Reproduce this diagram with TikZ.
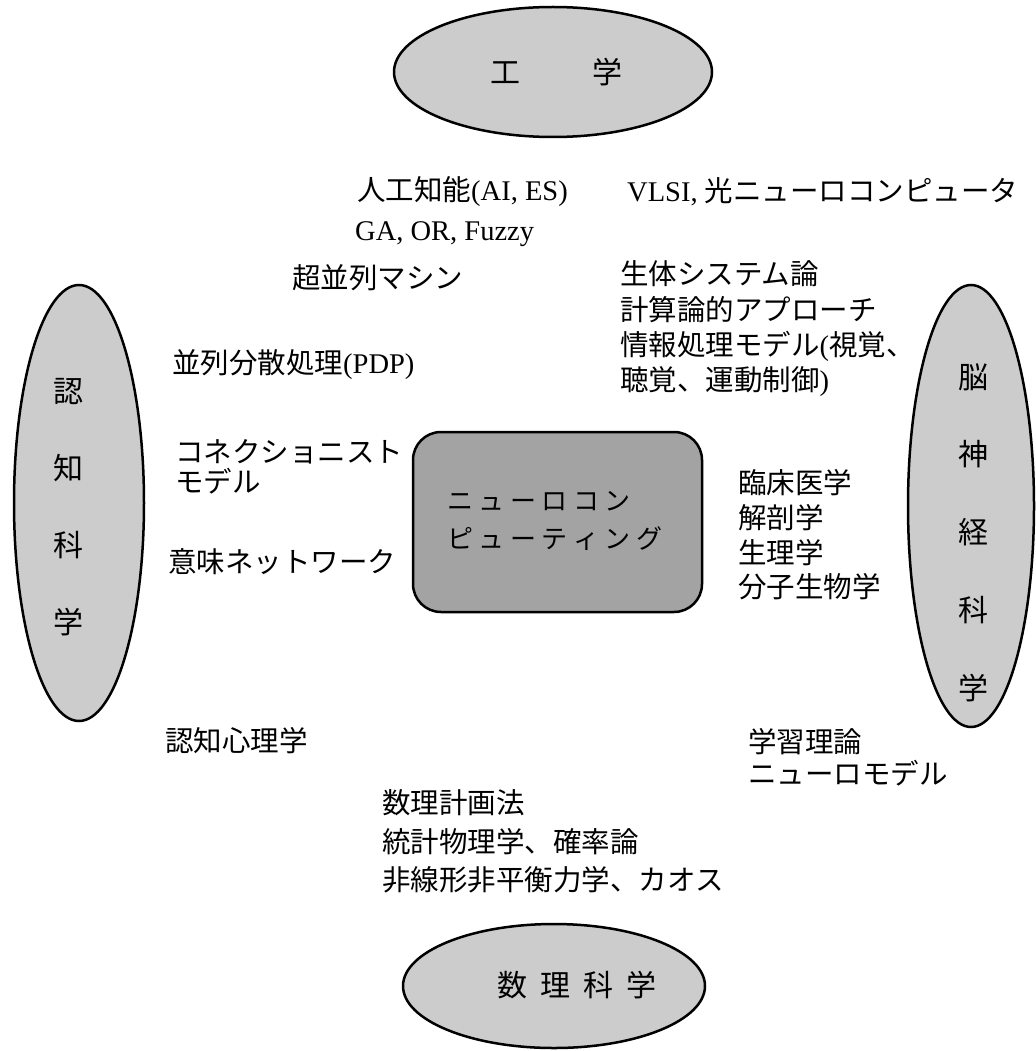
\documentclass[tikz,border=0pt]{standalone}
\usepackage{fontspec}
\setmainfont{Liberation Serif}
\newfontfamily\jp{Noto Sans CJK JP}
\usetikzlibrary{shapes.geometric}
\newcommand\gpA{\hspace{5.5pt}}
\newcommand\gpB{\hspace{13pt}}
\begin{document}
\begin{tikzpicture}[x=1pt,y=-1pt,
  field/.style={ellipse, draw=black, line width=2.5pt, fill=black!20, inner sep=0pt},
  core/.style={rectangle, rounded corners=28pt, draw=black, line width=2.5pt, fill=black!36, inner sep=0pt},
  lbl/.style={anchor=west, inner sep=0pt, align=left},
  big/.style={inner sep=0pt, align=center}]
\useasboundingbox (0,0) rectangle (1035,1051);

% outer fields
\node[field, minimum width=318pt, minimum height=130pt] (eng) at (553,72) {};
\node[field, minimum width=302pt, minimum height=124pt] (math) at (554,986) {};
\node[field, minimum width=130pt, minimum height=436pt] (cog) at (79,503) {};
\node[field, minimum width=126pt, minimum height=442pt] (neuro) at (971,506) {};
\node[core, minimum width=289pt, minimum height=180pt] (nc) at (557.5,522) {};

% field titles
\node[big, font=\fontsize{30}{36}\selectfont\jp] (engt) at (556,72) {工\hspace{72pt}学};
\node[big, font=\fontsize{30}{36}\selectfont\jp] (matht) at (577,985) {数\gpB 理\gpB 科\gpB 学};
\node[big, font=\fontsize{30}{77}\selectfont\jp] (cogt) at (68,507.5) {認\\知\\科\\学};
\node[big, font=\fontsize{30}{77.75}\selectfont\jp] (neurot) at (973,532.5) {脳\\神\\経\\科\\学};
\node[lbl, font=\fontsize{26}{38}\selectfont\jp] (nct) at (447,521) {ニ\gpA ュ\gpA ー\gpA ロ\gpA コ\gpA ン\\ピ\gpA ュ\gpA ー\gpA テ\gpA ィ\gpA ン\gpA グ};

% labels
\node[lbl, font=\fontsize{28.5}{34}\selectfont] (ai) at (357,192) {{\jp 人工知能}(AI, ES)};
\node[lbl, font=\fontsize{28.5}{34}\selectfont] (ga) at (355,234) {GA, OR, Fuzzy};
\node[lbl, font=\fontsize{28.5}{34}\selectfont\jp] (mpp) at (292,278) {超並列マシン};
\node[lbl, font=\fontsize{28.5}{34}\selectfont] (vlsi) at (627,192) {VLSI, {\jp 光ニューロコンピュータ}};
\node[lbl, font=\fontsize{28.5}{35.3}\selectfont\jp] (bio) at (620,329) {生体システム論\\計算論的アプローチ\\情報処理モデル{\rmfamily(}視覚、\\聴覚、運動制御{\rmfamily)}};
\node[lbl, font=\fontsize{28.5}{34}\selectfont\jp] (pdp) at (172,365) {並列分散処理{\rmfamily(PDP)}};
\node[lbl, font=\fontsize{28.5}{30}\selectfont\jp] (conn) at (175,467) {コネクショニスト\\モデル};
\node[lbl, font=\fontsize{28.5}{34}\selectfont\jp] (sem) at (168,562) {意味ネットワーク};
\node[lbl, font=\fontsize{28.5}{34.7}\selectfont\jp] (med) at (738,535) {臨床医学\\解剖学\\生理学\\分子生物学};
\node[lbl, font=\fontsize{28.5}{34}\selectfont\jp] (psy) at (165,741) {認知心理学};
\node[lbl, font=\fontsize{28.5}{32}\selectfont\jp] (learn) at (748,757) {学習理論\\ニューロモデル};
\node[lbl, font=\fontsize{28.5}{38.5}\selectfont\jp] (mp) at (382,841.5) {数理計画法\\統計物理学、確率論\\非線形非平衡力学、カオス};
\end{tikzpicture}
\end{document}
